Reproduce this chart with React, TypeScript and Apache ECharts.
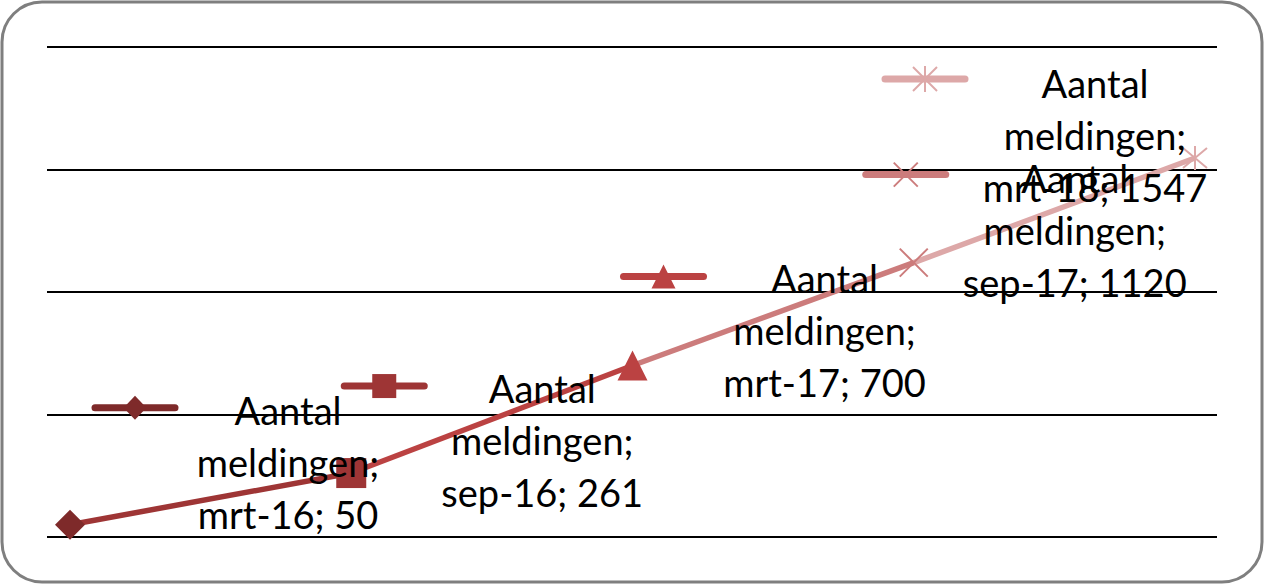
import React, { useEffect, useRef } from "react";
import * as echarts from "echarts";

const categories = ["mrt-16", "sep-16", "mrt-17", "sep-17", "mrt-18"];
const seriesName = "Aantal meldingen";
const values = [50, 261, 700, 1120, 1547];
const yTicks = [0, 500, 1000, 1500, 2000];
const pointColors = ["#7E2A2A", "#9E3535", "#BB4242", "#CC7C7C", "#DDA8A8"];
const markerKinds = ["diamond", "square", "triangle", "x", "star"];
// label layout (offsets from the data point, in px)
const textOffsets = [[218, -63], [191, -33], [192, -36], [161, -33], [-100, -23]];
const keyOffsets = [[65, -117], [33, -87], [31, -89], [-8, -88], [-270, -79]];

const X_PATH = "path://M0,0L10,10M10,0L0,10";
const STAR_PATH = "path://M0,0L10,10M10,0L0,10M5,-1L5,11";

function symbolFor(kind: string) {
  if (kind === "diamond") return "diamond";
  if (kind === "square") return "rect";
  if (kind === "triangle") return "triangle";
  if (kind === "x") return X_PATH;
  return STAR_PATH;
}

function keyMarker(kind: string, cx: number, cy: number, color: string, s: number): any[] {
  const h = s / 2;
  if (kind === "diamond")
    return [{ type: "polygon", z: 101, shape: { points: [[cx, cy - h], [cx + h * 0.95, cy], [cx, cy + h], [cx - h * 0.95, cy]] }, style: { fill: color } }];
  if (kind === "square")
    return [{ type: "rect", z: 101, shape: { x: cx - h, y: cy - h, width: s, height: s }, style: { fill: color } }];
  if (kind === "triangle")
    return [{ type: "polygon", z: 101, shape: { points: [[cx, cy - h], [cx + h, cy + h], [cx - h, cy + h]] }, style: { fill: color } }];
  const lines: any[] = [
    { type: "line", z: 101, shape: { x1: cx - h, y1: cy - h, x2: cx + h, y2: cy + h }, style: { stroke: color, lineWidth: 2 } },
    { type: "line", z: 101, shape: { x1: cx + h, y1: cy - h, x2: cx - h, y2: cy + h }, style: { stroke: color, lineWidth: 2 } },
  ];
  if (kind === "star")
    lines.push({ type: "line", z: 101, shape: { x1: cx, y1: cy - h - 1, x2: cx, y2: cy + h + 1 }, style: { stroke: color, lineWidth: 2 } });
  return lines;
}

export default function App() {
  const ref = useRef<HTMLDivElement>(null);
  useEffect(() => {
    document.body.style.margin = "0";
    if (!ref.current) return;
    const chart = echarts.init(ref.current, undefined, { renderer: "svg" });
    const segSeries = values.slice(0, -1).map((v, i) => ({
      type: "line",
      data: [[i, v], [i + 1, values[i + 1]]],
      symbol: "none",
      lineStyle: { color: pointColors[i + 1], width: 5.5 },
      z: 3,
      silent: true,
    }));
    const option: any = {
      animation: false,
      backgroundColor: "#ffffff",
      grid: { left: 47, right: 48, top: 47, bottom: 48 },
      xAxis: {
        type: "value",
        min: -23 / 281.25,
        max: 4 + 22 / 281.25,
        axisLine: { show: false },
        axisTick: { show: false },
        axisLabel: { show: false },
        splitLine: { show: false },
      },
      yAxis: {
        type: "value",
        min: yTicks[0],
        max: yTicks[yTicks.length - 1],
        interval: yTicks[1] - yTicks[0],
        axisLine: { show: false },
        axisTick: { show: false },
        axisLabel: { show: false },
        splitLine: { lineStyle: { color: "#000000", width: 2 } },
      },
      series: [
        ...segSeries,
        {
          type: "scatter",
          name: seriesName,
          z: 4,
          data: values.map((v, i) => {
            const k = markerKinds[i];
            const stroke = k === "x" || k === "star";
            return {
              value: [i, v],
              symbol: symbolFor(k),
              symbolSize: k === "star" ? 24 : k === "x" ? 28 : k === "diamond" ? [30, 30] : 30,
              itemStyle: stroke
                ? { color: "rgba(0,0,0,0)", borderColor: pointColors[i], borderWidth: 2, opacity: 1 }
                : { color: pointColors[i], opacity: 1 },
            };
          }),
        },
      ],
    };
    chart.setOption(option);

    const graphics: any[] = [
      {
        type: "rect",
        z: 200,
        shape: { x: 2, y: 2, width: 1260, height: 580, r: 40 },
        style: { fill: "none", stroke: "#7F7F7F", lineWidth: 3 },
      },
    ];
    values.forEach((v, i) => {
      const p = chart.convertToPixel({ gridIndex: 0 }, [i, v]) as number[];
      const [tx, ty] = textOffsets[i];
      const [kx, ky] = keyOffsets[i];
      const cx = p[0] + kx;
      const cy = p[1] + ky;
      graphics.push({
        type: "line",
        z: 100,
        shape: { x1: cx - 40, y1: cy, x2: cx + 40, y2: cy },
        style: { stroke: pointColors[i], lineWidth: 7, lineCap: "round" },
      });
      graphics.push(...keyMarker(markerKinds[i], cx, cy, pointColors[i], 24));
      graphics.push({
        type: "text",
        z: 110,
        x: p[0] + tx,
        y: p[1] + ty,
        style: {
          text: `Aantal\nmeldingen;\n${categories[i]}; ${v}`,
          font: "38px Lato",
          fill: "#000000",
          align: "center",
          verticalAlign: "middle",
          lineHeight: 52,
        },
      });
    });
    chart.setOption({ graphic: graphics });
    return () => chart.dispose();
  }, []);
  return <div ref={ref} style={{ width: 1265, height: 585 }} />;
}
